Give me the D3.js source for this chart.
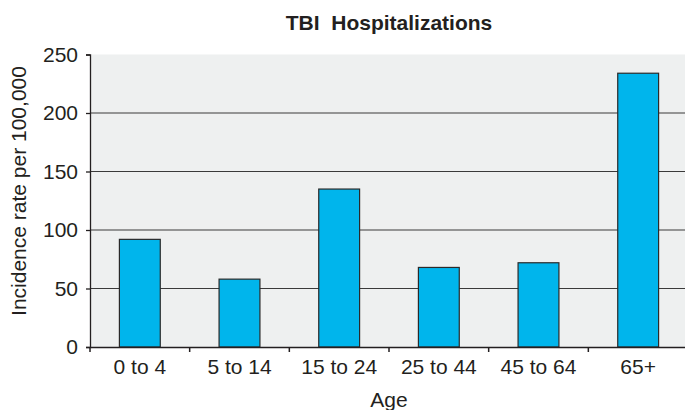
<!DOCTYPE html>
<html>
<head>
<meta charset="utf-8">
<script src="https://cdn.jsdelivr.net/npm/d3@7"></script>
<style>
  html, body { margin: 0; padding: 0; background: #ffffff; }
  svg { display: block; }
  text { font-family: "Liberation Sans", Arial, Helvetica, sans-serif; fill: #231f20; }
</style>
</head>
<body>
<svg id="chart" width="685" height="410"></svg>
<script>
const categories = ["0 to 4", "5 to 14", "15 to 24", "25 to 44", "45 to 64", "65+"];
const values = [92, 58, 135, 68, 72, 234];
const yTicks = [0, 50, 100, 150, 200, 250];
const gridValues = [50, 100, 150, 200];
const titleText = "TBI\u00a0 Hospitalizations";
const xLabel = "Age";
const yLabel = "Incidence rate per 100,000";

(function () {
const mLeft = 90, mRight = 688, mTop = 54.5, mBottom = 347;

const svg = d3.select("#chart");

const x = d3.scaleBand().domain(categories).range([mLeft, mRight])
  .paddingInner(0.59).paddingOuter(0.295);
const y = d3.scaleLinear().domain([0, 250]).range([mBottom, mTop]);

// plot background
svg.append("rect")
  .attr("x", mLeft).attr("y", y(250))
  .attr("width", mRight - mLeft).attr("height", y(0) - y(250))
  .attr("fill", "#eef0f0");

// gridlines
svg.append("g").selectAll("line").data(gridValues).join("line")
  .attr("x1", mLeft).attr("x2", mRight)
  .attr("y1", d => y(d)).attr("y2", d => y(d))
  .attr("stroke", "#3a3a3a").attr("stroke-width", 1.2);

// bars
svg.append("g").selectAll("rect").data(values).join("rect")
  .attr("x", (d, i) => x(categories[i]))
  .attr("y", d => y(d))
  .attr("width", x.bandwidth())
  .attr("height", d => y(0) - y(d))
  .attr("fill", "#00b5ec")
  .attr("stroke", "#2a2a2a").attr("stroke-width", 1.2);

// y axis
const yAxis = d3.axisLeft(y).tickValues(yTicks).tickSize(4).tickPadding(8).tickFormat(d3.format("d"));
const gy = svg.append("g").attr("transform", `translate(${mLeft},0)`).call(yAxis);
gy.select(".domain").attr("stroke", "#231f20").attr("stroke-width", 1.3);
gy.selectAll(".tick line").attr("stroke", "#231f20").attr("stroke-width", 1.3);
gy.selectAll(".tick text").attr("font-size", 21).style("font-family", "'Liberation Sans', Arial, sans-serif").attr("fill", "#231f20");

// x axis
const xAxis = d3.axisBottom(x).tickSize(0).tickPadding(12);
const gx = svg.append("g").attr("transform", `translate(0,${mBottom})`).call(xAxis);
gx.select(".domain").attr("stroke", "#231f20").attr("stroke-width", 1.3);
gx.selectAll(".tick text").attr("font-size", 21).style("font-family", "'Liberation Sans', Arial, sans-serif").attr("fill", "#231f20");

// x category boundary ticks
const half = x.step() / 2;
const bounds = categories.map(c => x(c) + x.bandwidth() / 2 - half);
svg.append("g").selectAll("line").data(bounds).join("line")
  .attr("x1", d => d).attr("x2", d => d)
  .attr("y1", mBottom).attr("y2", mBottom + 5)
  .attr("stroke", "#231f20").attr("stroke-width", 1.5);

// title
svg.append("text")
  .attr("x", (mLeft + mRight) / 2).attr("y", 30)
  .attr("text-anchor", "middle")
  .attr("font-size", 21).attr("font-weight", "bold")
  .text(titleText);

// x label
svg.append("text")
  .attr("x", (mLeft + mRight) / 2).attr("y", 407)
  .attr("text-anchor", "middle")
  .attr("font-size", 21)
  .text(xLabel);

// y label
svg.append("text")
  .attr("transform", `translate(26,${(60 + 322) / 2}) rotate(-90)`)
  .attr("text-anchor", "middle")
  .attr("font-size", 21)
  .text(yLabel);
})();
</script>
</body>
</html>
